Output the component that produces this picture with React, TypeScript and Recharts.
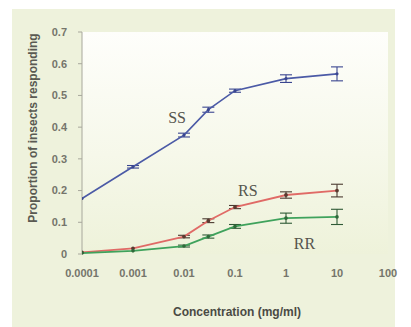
import React from 'react';
import {
  LineChart,
  Line,
  XAxis,
  YAxis,
  ErrorBar,
  ReferenceDot,
} from 'recharts';

const concentrations = [0.0001, 0.001, 0.01, 0.03, 0.1, 1, 10];
const ss = [0.175, 0.275, 0.375, 0.455, 0.515, 0.553, 0.568];
const rs = [0.005, 0.018, 0.055, 0.105, 0.148, 0.186, 0.2];
const rr = [0.003, 0.01, 0.025, 0.055, 0.087, 0.113, 0.117];
const ssErr = [0, 0.004, 0.006, 0.008, 0.005, 0.012, 0.022];
const rsErr = [0, 0, 0.004, 0.006, 0.005, 0.01, 0.02];
const rrErr = [0, 0, 0.003, 0.005, 0.006, 0.016, 0.024];

const xTicks = [0.0001, 0.001, 0.01, 0.1, 1, 10, 100];
const xTickLabels = ['0.0001', '0.001', '0.01', '0.1', '1', '10', '100'];
const yTicks = [0, 0.1, 0.2, 0.3, 0.4, 0.5, 0.6, 0.7];

const seriesLabels = [
  { name: 'SS', x: 0.0073, y: 0.43 },
  { name: 'RS', x: 0.178, y: 0.2 },
  { name: 'RR', x: 2.3, y: 0.035 },
];

const data = concentrations.map((c, i) => ({
  c,
  ss: ss[i],
  rs: rs[i],
  rr: rr[i],
  ssErr: ssErr[i],
  rsErr: rsErr[i],
  rrErr: rrErr[i],
}));

const tickStyle = { fill: '#75756b', fontSize: 11, fontWeight: 700, fontFamily: 'Liberation Sans, Arial, sans-serif' };

const App: React.FC = () => (
  <div style={{ position: 'absolute', left: 0, top: 0, width: 411, height: 327, background: '#ffffff', overflow: 'hidden' }}>
    <div style={{ position: 'absolute', left: 12, top: 9, width: 383, height: 318, background: '#eef2dc' }} />
    <div
      style={{
        position: 'absolute',
        left: 82,
        top: 32,
        width: 306,
        height: 222,
        background: 'linear-gradient(to bottom, #fefefb 0%, #f6f8ea 55%, #eef2da 100%)',
      }}
    />
    <div
      style={{
        position: 'absolute',
        left: 33,
        top: 128,
        transform: 'translate(-50%, -50%) rotate(-90deg)',
        whiteSpace: 'nowrap',
        color: '#5a5a52',
        fontSize: 12,
        fontWeight: 700,
        fontFamily: 'Liberation Sans, Arial, sans-serif',
      }}
    >
      Proportion of insects responding
    </div>
    <div
      style={{
        position: 'absolute',
        left: 237,
        top: 312,
        transform: 'translate(-50%, -50%)',
        whiteSpace: 'nowrap',
        color: '#4a4a44',
        fontSize: 12,
        fontWeight: 700,
        fontFamily: 'Liberation Sans, Arial, sans-serif',
      }}
    >
      Concentration (mg/ml)
    </div>
    <div style={{ position: 'absolute', left: 0, top: 0 }}>
      <LineChart width={411} height={327} data={data} margin={{ top: 32, right: 23, bottom: 33, left: 0 }}>
        <XAxis
          dataKey="c"
          type="number"
          scale="log"
          domain={[0.0001, 100]}
          ticks={xTicks}
          tickFormatter={(v: number) => xTickLabels[xTicks.indexOf(v)] ?? String(v)}
          axisLine={false}
          tickLine={false}
          tickSize={0}
          tickMargin={15}
          height={40}
          tick={tickStyle}
          allowDataOverflow
          interval={0}
        />
        <YAxis
          type="number"
          domain={[0, 0.7]}
          ticks={yTicks}
          tickFormatter={(v: number) => (v === 0 ? '0' : v.toFixed(1))}
          width={82}
          stroke="#a8a89c"
          tickSize={4}
          tickMargin={11}
          tick={tickStyle}
          interval={0}
        />
        <Line type="linear" dataKey="ss" stroke="#4b5aa6" strokeWidth={1.6} dot={{ r: 0.8, fill: '#3a4690', stroke: '#3a4690' }} isAnimationActive={false}>
          <ErrorBar dataKey="ssErr" width={6} stroke="#3a4690" strokeWidth={1.1} direction="y" />
        </Line>
        <Line type="linear" dataKey="rs" stroke="#e06a66" strokeWidth={1.8} dot={{ r: 1, fill: '#5a3a30', stroke: '#5a3a30' }} isAnimationActive={false}>
          <ErrorBar dataKey="rsErr" width={6} stroke="#4a3a30" strokeWidth={1.1} direction="y" />
        </Line>
        <Line type="linear" dataKey="rr" stroke="#3fa25c" strokeWidth={1.8} dot={{ r: 0.9, fill: '#2f6a3a', stroke: '#2f6a3a' }} isAnimationActive={false}>
          <ErrorBar dataKey="rrErr" width={6} stroke="#2f5a36" strokeWidth={1.1} direction="y" />
        </Line>
        {seriesLabels.map((l) => (
          <ReferenceDot
            key={l.name}
            x={l.x}
            y={l.y}
            r={0}
            stroke="none"
            fill="none"
            label={{
              value: l.name,
              position: 'center',
              fill: '#55554e',
              fontSize: 16,
              fontFamily: 'Liberation Serif, Times New Roman, serif',
            }}
          />
        ))}
      </LineChart>
    </div>
  </div>
);

export default App;
